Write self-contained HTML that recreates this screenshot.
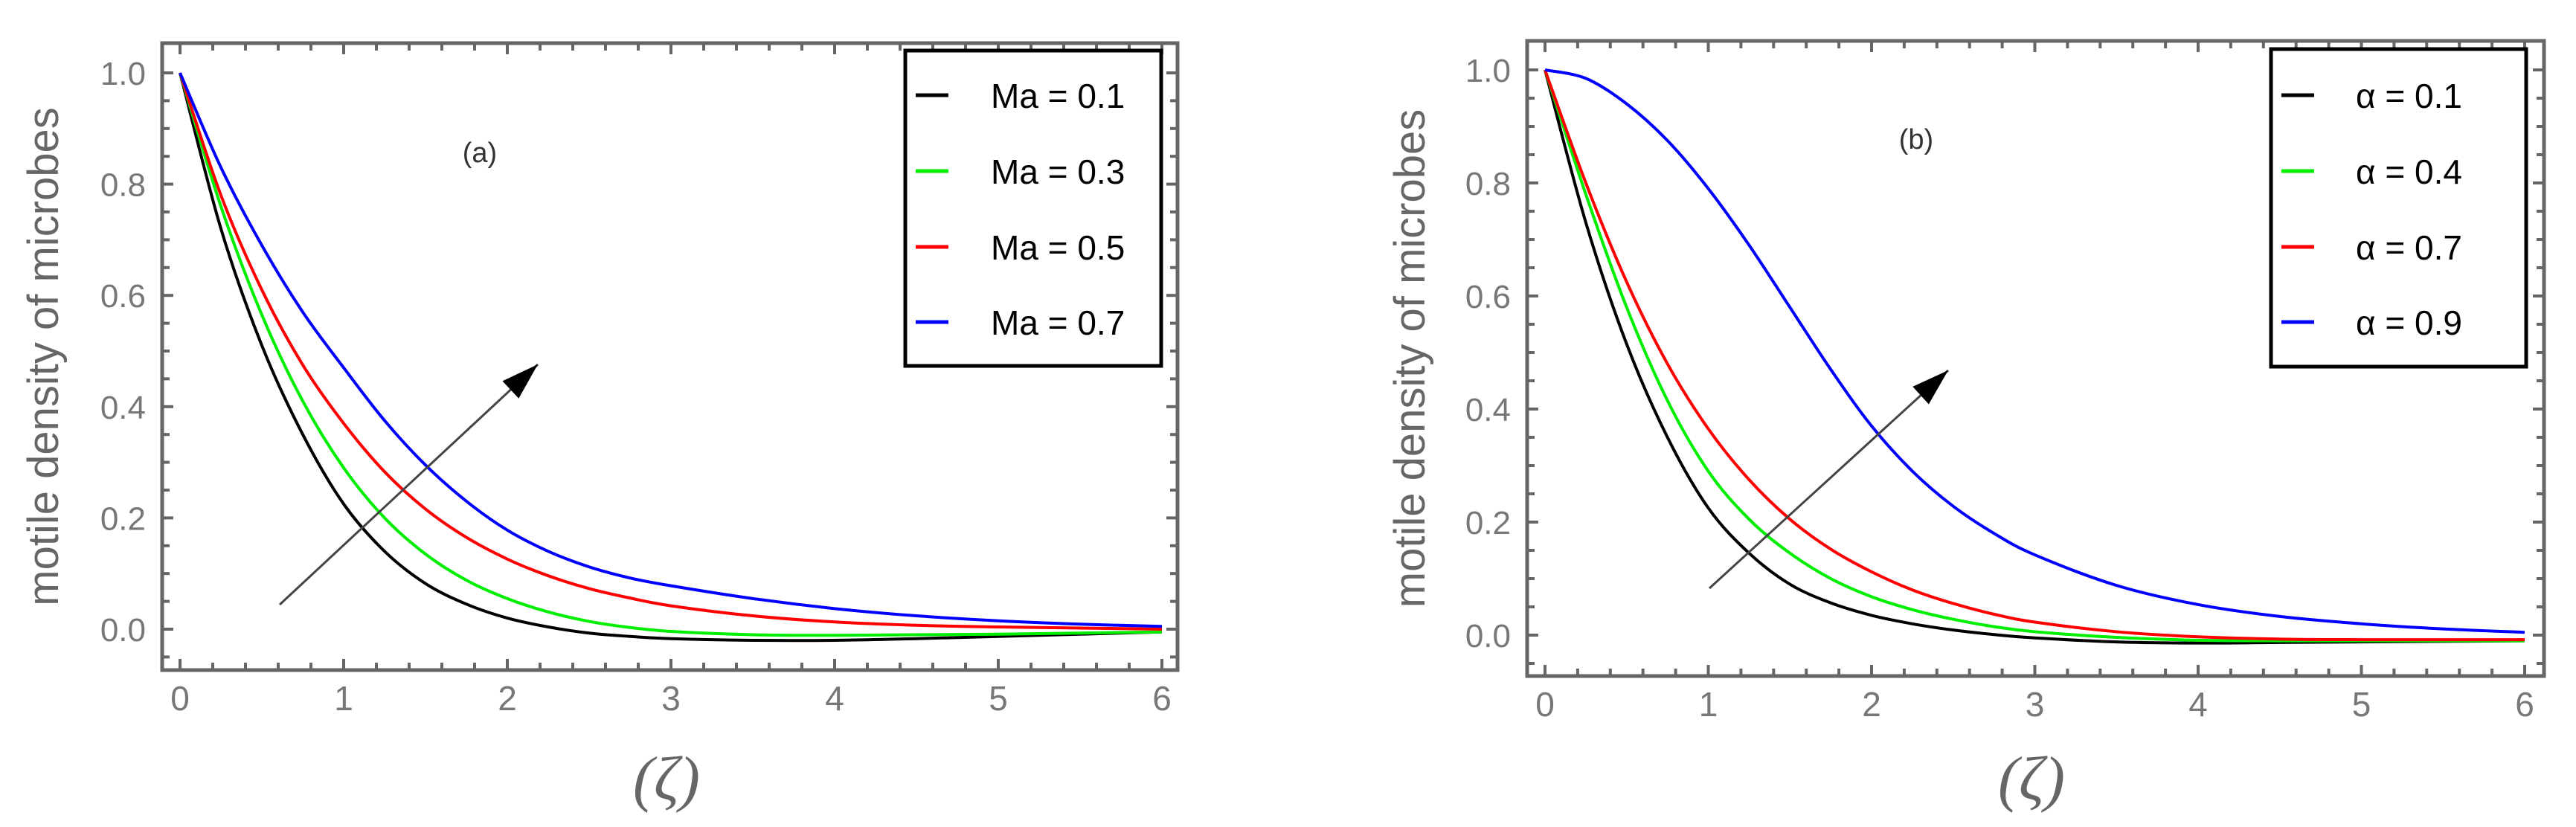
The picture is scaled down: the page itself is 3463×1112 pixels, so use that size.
<!DOCTYPE html>
<html><head><meta charset="utf-8"><style>
html,body{margin:0;padding:0;background:#fff;}
svg{display:block;font-family:"Liberation Sans",sans-serif;}
</style></head><body>
<svg id="fig" width="3463" height="1112" viewBox="0 0 3463 1112"></svg>
<script>
const xs = [0,0.25,0.5,0.75,1,1.25,1.5,1.75,2,2.25,2.5,2.75,3,3.5,4,4.5,5,5.5,6];
const aLabels = ["Ma = 0.1","Ma = 0.3","Ma = 0.5","Ma = 0.7"];
const aBlack = [1,0.72,0.51,0.35,0.225,0.14,0.082,0.045,0.02,0.004,-0.007,-0.013,-0.017,-0.02,-0.02,-0.017,-0.013,-0.009,-0.005];
const aGreen = [1,0.76,0.565,0.41,0.29,0.2,0.135,0.088,0.055,0.031,0.014,0.003,-0.004,-0.01,-0.011,-0.01,-0.009,-0.007,-0.005];
const aRed = [1,0.78,0.61,0.475,0.37,0.283,0.216,0.165,0.126,0.096,0.073,0.056,0.042,0.024,0.013,0.007,0.004,0.002,0];
const aBlue = [1,0.83,0.69,0.57,0.47,0.375,0.295,0.23,0.178,0.14,0.112,0.092,0.078,0.055,0.037,0.024,0.015,0.009,0.005];
const bLabels = ["\u03b1 = 0.1","\u03b1 = 0.4","\u03b1 = 0.7","\u03b1 = 0.9"];
const bBlack = [1,0.73,0.515,0.35,0.225,0.145,0.09,0.057,0.035,0.02,0.009,0.001,-0.005,-0.012,-0.014,-0.013,-0.012,-0.011,-0.01];
const bGreen = [1,0.78,0.58,0.415,0.29,0.205,0.145,0.1,0.068,0.045,0.028,0.015,0.006,-0.004,-0.009,-0.01,-0.01,-0.01,-0.01];
const bRed = [1,0.8,0.625,0.48,0.365,0.275,0.205,0.152,0.112,0.08,0.056,0.037,0.023,0.006,-0.003,-0.007,-0.008,-0.008,-0.008];
const bBlue = [1,0.985,0.94,0.875,0.79,0.69,0.58,0.47,0.37,0.29,0.228,0.18,0.142,0.088,0.054,0.033,0.02,0.011,0.005];
const xTicks = [0,1,2,3,4,5,6];
const yTicks = [0,0.2,0.4,0.6,0.8,1.0];
const colors = ["#000","#00ee00","#ff0000","#0000ff"];

const NS="http://www.w3.org/2000/svg";
const svg=document.getElementById('fig');
function mk(t,a,p){const e=document.createElementNS(NS,t);for(const k in a)e.setAttribute(k,a[k]);(p||svg).appendChild(e);return e;}

function panel(cfg){
  const g=mk('g',{});
  
  
  const X=v=>cfg.x0+(cfg.x6-cfg.x0)*v/6;
  const Y=v=>cfg.y0-(cfg.y0-cfg.y1)*v;
  for(let i=0;i<=30;i++){const v=i*0.2;const len=(i%5===0)?15:10;
    const t1=mk('line',{x1:X(v),x2:X(v),y1:cfg.fb,y2:cfg.fb-len,stroke:'#666','stroke-width':4},g);
    
    const t2=mk('line',{x1:X(v),x2:X(v),y1:cfg.ft,y2:cfg.ft+len,stroke:'#666','stroke-width':4},g);
    }
  for(let i=-1;i<=20;i++){const v=i*0.05;const yy=Y(v);if(yy>cfg.fb-2||yy<cfg.ft+2)continue;const len=(i%4===0)?15:10;
    const t1=mk('line',{x1:cfg.fl,x2:cfg.fl+len,y1:yy,y2:yy,stroke:'#666','stroke-width':4},g);
    
    const t2=mk('line',{x1:cfg.fr,x2:cfg.fr-len,y1:yy,y2:yy,stroke:'#666','stroke-width':4},g);
    }
  const fr=mk('rect',{x:cfg.fl,y:cfg.ft,width:cfg.fr-cfg.fl,height:cfg.fb-cfg.ft,fill:'none',stroke:'#666','stroke-width':5},g);
  
  xTicks.forEach(v=>{const t=mk('text',{x:X(v),y:cfg.fb+54,'font-size':46,fill:'#777','text-anchor':'middle'},g);t.textContent=String(v);
    });
  yTicks.forEach(v=>{const t=mk('text',{x:cfg.fl-22,y:Y(v)+16,'font-size':44,fill:'#777','text-anchor':'end'},g);t.textContent=v.toFixed(1);
    });
  const yt=mk('text',{x:0,y:0,'font-size':58,fill:'#666','text-anchor':'middle',transform:`translate(${cfg.ytx},${(cfg.ft+cfg.fb)/2}) rotate(-90)`},g);
  yt.textContent='motile density of microbes';
  const xt=mk('text',{x:cfg.zx,y:1075,'font-size':84,fill:'#666','text-anchor':'middle','font-family':'Liberation Serif, serif','font-style':'italic'},g);
  xt.textContent='(\u03b6)';
  const pl=mk('text',{x:cfg.px,y:cfg.py,'font-size':38,fill:'#333','text-anchor':'middle'},g);
  pl.textContent=cfg.plabel;
  cfg.series.forEach((s,k)=>{
    const P=xs.map((x,i)=>[X(x),Y(s[i])]);
    let d=`M${P[0][0]},${P[0][1]}`;
    for(let i=0;i<P.length-1;i++){const p0=P[Math.max(i-1,0)],p1=P[i],p2=P[i+1],p3=P[Math.min(i+2,P.length-1)];
      d+=` C${p1[0]+(p2[0]-p0[0])/6},${p1[1]+(p2[1]-p0[1])/6} ${p2[0]-(p3[0]-p1[0])/6},${p2[1]-(p3[1]-p1[1])/6} ${p2[0]},${p2[1]}`;}
    const c=mk('path',{d:d,fill:'none',stroke:colors[k],'stroke-width':4,'stroke-linejoin':'round'},g);
    
  });
  const a=cfg.arrow;
  const ar=mk('line',{x1:a[0],y1:a[1],x2:a[2],y2:a[3],stroke:'#444','stroke-width':3},g);
  
  const ang=Math.atan2(a[3]-a[1],a[2]-a[0]);const L=50,W=16;
  const bx=a[2]-L*Math.cos(ang),by=a[3]-L*Math.sin(ang);
  const ah=mk('polygon',{points:`${a[2]},${a[3]} ${bx+W*Math.sin(ang)},${by-W*Math.cos(ang)} ${bx-W*Math.sin(ang)},${by+W*Math.cos(ang)}`,fill:'#000'},g);
  
  const lg=mk('g',{},g);
  const L0=cfg.leg;
  mk('rect',{x:L0[0],y:L0[1],width:L0[2]-L0[0],height:L0[3]-L0[1],fill:'#fff',stroke:'#000','stroke-width':5},lg);
  cfg.labels.forEach((lab,k)=>{const yy=[128,230,332,433][k];
    const e=mk('g',{},lg);
    mk('line',{x1:L0[0]+14,x2:L0[0]+58,y1:yy,y2:yy,stroke:colors[k],'stroke-width':5},e);
    const t=mk('text',{x:cfg.lx,y:yy+17,'font-size':46,fill:'#000'},e);t.textContent=lab;});
}
panel({name:'panel-a',x0:242,x6:1562,y0:846,y1:98,fl:218,fr:1583,ft:58,fb:901,ytx:78,zx:896,px:645,py:218,plabel:'(a)',
  series:[aBlack,aGreen,aRed,aBlue],labels:aLabels,arrow:[376,813,723,490],leg:[1217,68,1561,492],lx:1332});
panel({name:'panel-b',x0:2077,x6:3394,y0:854,y1:94,fl:2053,fr:3420,ft:55,fb:909,ytx:1915,zx:2731,px:2576,py:200,plabel:'(b)',
  series:[bBlack,bGreen,bRed,bBlue],labels:bLabels,arrow:[2298,791,2619,498],leg:[3053,66,3396,493],lx:3167});
</script>
</body></html>
